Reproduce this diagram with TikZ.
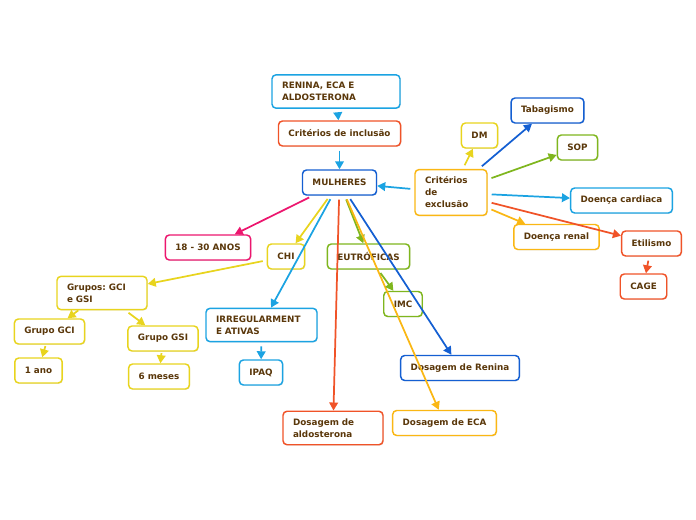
\documentclass[tikz,border=0pt]{standalone}
\usepackage{fontspec}
\setmainfont{DejaVu Sans}
\usepackage{xcolor}
\usetikzlibrary{arrows.meta}
\usetikzlibrary{shadows}
\definecolor{mtext}{RGB}{90,55,10}
\definecolor{mcyan}{RGB}{27,163,226}
\definecolor{mred}{RGB}{240,83,40}
\definecolor{mblue}{RGB}{20,95,210}
\definecolor{morange}{RGB}{250,183,20}
\definecolor{myellow}{RGB}{232,212,30}
\definecolor{mgreen}{RGB}{127,182,30}
\definecolor{mpink}{RGB}{236,22,110}
\frenchspacing

\begin{document}
\begin{tikzpicture}[x=0.75pt,y=-0.75pt,
box/.style={draw=#1, fill=white, line width=1.1pt, rounded corners=3pt, text=mtext,
  font=\fontsize{6.6}{9}\selectfont\bfseries, minimum height=18.75pt,
  inner xsep=7.5pt, inner ysep=5.5pt,
  drop shadow={opacity=0.2, shadow xshift=0.6pt, shadow yshift=-0.6pt}},
link/.style={draw=#1, line width=1.3pt, -{Triangle[length=6pt,width=6.5pt]}, shorten <=3pt}]

\useasboundingbox (0,0) rectangle (696,520);

%boxes:
\node[box=mcyan, text width=81pt, align=left] (ren) at (336,91.5) {RENINA, ECA E\\ALDOSTERONA};
\node[box=mred] (inc) at (339.5,133.5) {Critérios de inclusão};
\node[box=mblue] (mul) at (339.5,182.5) {MULHERES};
%exclusion side
\node[box=morange, text width=39pt, align=left] (exc) at (451,192.5) {Critérios\\de\\exclusão};
\node[box=myellow] (dm) at (479.5,135.5) {DM};
\node[box=mblue] (tab) at (547.5,110.5) {Tabagismo};
\node[box=mgreen] (sop) at (577.5,147.5) {SOP};
\node[box=mcyan] (card) at (621.5,200.5) {Doença cardiaca};
\node[box=morange] (renal) at (556.5,237) {Doença renal};
\node[box=mred] (eti) at (651.5,243.5) {Etilismo};
\node[box=mred] (cage) at (643.5,286.5) {CAGE};
%inclusion side
\node[box=mpink] (age) at (208,247.5) {18 - 30 ANOS};
\node[box=myellow] (chi) at (286,256.5) {CHI};
\node[box=mgreen] (eut) at (368.5,256.5) {EUTRÓFICAS};
\node[box=mgreen] (imc) at (403,304) {IMC};
\node[box=myellow, text width=52.5pt, align=left] (grp) at (102,293) {Grupos: GCI\\e GSI};
\node[box=myellow] (gci) at (49.5,331.5) {Grupo GCI};
\node[box=myellow] (gsi) at (163,338.5) {Grupo GSI};
\node[box=myellow] (ano) at (38.5,370.5) {1 ano};
\node[box=myellow] (mes) at (159,376.5) {6 meses};
\node[box=mcyan, text width=68.25pt, align=left] (irr) at (261.5,325) {IRREGULARMENT\\E ATIVAS};
\node[box=mcyan] (ipaq) at (261,372.5) {IPAQ};
\node[box=mblue] (dren) at (460,368) {Dosagem de Renina};
\node[box=mred, text width=60pt, align=left] (dald) at (333,428) {Dosagem de\\aldosterona};
\node[box=morange] (deca) at (444.5,423) {Dosagem de ECA};

%links:
\draw[link=mcyan] (ren) -- (inc);
\draw[link=mcyan] (inc) -- (mul);
\draw[link=mcyan] (exc) -- (mul);
\draw[link=myellow] (exc) -- (dm);
\draw[link=mblue] (exc) -- (tab);
\draw[link=mgreen] (exc) -- (sop);
\draw[link=mcyan] (exc) -- (card);
\draw[link=morange] (exc) -- (renal);
\draw[link=mred] (exc) -- (eti);
\draw[link=mred] (eti) -- (cage);
\draw[link=mpink] (mul) -- (age);
\draw[link=myellow] (mul) -- (chi);
\draw[link=mcyan] (mul) -- (irr);
\draw[link=mred] (mul) -- (dald);
\draw[link=mgreen] (mul) -- (eut);
\draw[link=morange] (mul) -- (deca);
\draw[link=mblue] (mul) -- (dren);
\draw[link=mgreen] (eut) -- (imc);
\draw[link=myellow] (chi) -- (grp);
\draw[link=myellow, shorten <=0pt] (grp) -- (gci);
\draw[link=myellow] (grp) -- (gsi);
\draw[link=myellow, shorten <=1pt] (gci) -- (ano);
\draw[link=myellow, shorten <=1pt] (gsi) -- (mes);
\draw[link=mcyan] (irr) -- (ipaq);

\end{tikzpicture}
\end{document}
